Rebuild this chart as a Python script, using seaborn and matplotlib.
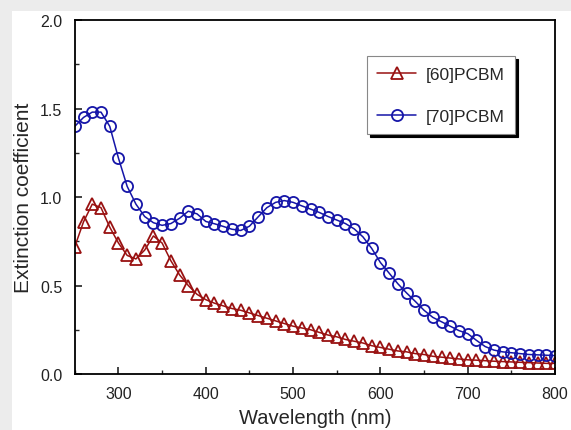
import pandas as pd
import matplotlib
matplotlib.use("Agg")
import matplotlib.pyplot as plt
import seaborn as sns
from matplotlib.patches import Rectangle
from matplotlib.ticker import MultipleLocator, FormatStrFormatter

# data (10 nm steps)
wavelength = [250, 260, 270, 280, 290, 300, 310, 320, 330, 340,
              350, 360, 370, 380, 390, 400, 410, 420, 430, 440,
              450, 460, 470, 480, 490, 500, 510, 520, 530, 540,
              550, 560, 570, 580, 590, 600, 610, 620, 630, 640,
              650, 660, 670, 680, 690, 700, 710, 720, 730, 740,
              750, 760, 770, 780, 790, 800]

pcbm60 = [0.72, 0.86, 0.96, 0.94, 0.83, 0.74, 0.67, 0.65, 0.70, 0.78,
          0.74, 0.64, 0.56, 0.50, 0.45, 0.42, 0.40, 0.385, 0.37, 0.36,
          0.345, 0.33, 0.315, 0.30, 0.285, 0.27, 0.26, 0.25, 0.235, 0.22,
          0.21, 0.195, 0.185, 0.175, 0.16, 0.15, 0.14, 0.13, 0.125, 0.115,
          0.11, 0.10, 0.095, 0.09, 0.085, 0.08, 0.078, 0.075, 0.072, 0.07,
          0.068, 0.066, 0.064, 0.062, 0.06, 0.06]

pcbm70 = [1.40, 1.45, 1.48, 1.48, 1.40, 1.22, 1.06, 0.96, 0.89, 0.855,
          0.84, 0.85, 0.88, 0.92, 0.905, 0.862, 0.849, 0.834, 0.818, 0.811,
          0.835, 0.888, 0.94, 0.97, 0.98, 0.97, 0.95, 0.932, 0.913, 0.89,
          0.87, 0.85, 0.82, 0.775, 0.71, 0.63, 0.57, 0.51, 0.458, 0.41,
          0.36, 0.32, 0.295, 0.27, 0.245, 0.228, 0.19, 0.155, 0.135, 0.125,
          0.12, 0.115, 0.11, 0.108, 0.106, 0.104]

labels = ["[60]PCBM", "[70]PCBM"]

df = pd.DataFrame({"wl": wavelength, "c60": pcbm60, "c70": pcbm70})

sns.set_style("ticks")
plt.rcParams["font.family"] = ["Liberation Sans", "DejaVu Sans"]

fig = plt.figure(figsize=(5.71, 4.31), dpi=100, facecolor="#ececec")
fig.patches.append(Rectangle((12 / 571, 0), 1, (431 - 12) / 431, transform=fig.transFigure,
                             facecolor="white", edgecolor="none", zorder=-10))
ax = fig.add_axes([0.131, 0.130, 0.841, 0.821])
ax.set_facecolor("white")

red = "#991111"
blue = "#1515a8"

sns.lineplot(data=df, x="wl", y="c60", ax=ax, color=red, lw=1.1, marker="^", markersize=8.5,
             mfc="none", mec=red, mew=1.3, label=labels[0])
sns.lineplot(data=df, x="wl", y="c70", ax=ax, color=blue, lw=1.1, marker="o", markersize=8,
             mfc="none", mec=blue, mew=1.3, label=labels[1])

ax.set_xlim(250, 800)
ax.set_ylim(0, 2.0)
ax.xaxis.set_major_locator(MultipleLocator(100))
ax.xaxis.set_minor_locator(MultipleLocator(50))
ax.yaxis.set_major_locator(MultipleLocator(0.5))
ax.yaxis.set_minor_locator(MultipleLocator(0.25))
ax.yaxis.set_major_formatter(FormatStrFormatter("%.1f"))
ax.tick_params(which="major", direction="in", length=5, width=1.2, labelsize=11.5,
               colors="#222222", pad=9)
ax.tick_params(which="minor", direction="in", length=3, width=1.0)
for s in ax.spines.values():
    s.set_linewidth(1.3)
    s.set_color("black")

ax.set_xlabel("Wavelength (nm)", fontsize=14.5, labelpad=5)
ax.set_ylabel("Extinction coefficient", fontsize=15, labelpad=5)

leg = ax.legend(loc="upper left", bbox_to_anchor=(0.608, 0.898), borderaxespad=0,
                fontsize=12.5, frameon=True, fancybox=False,
                shadow={"color": "black", "alpha": 1.0}, edgecolor="#888888",
                handlelength=2.25, labelspacing=1.55, borderpad=0.6, handletextpad=0.57,
                framealpha=1)
leg.get_frame().set_linewidth(0.8)

fig.savefig("out.png", dpi=100, facecolor=fig.get_facecolor())
